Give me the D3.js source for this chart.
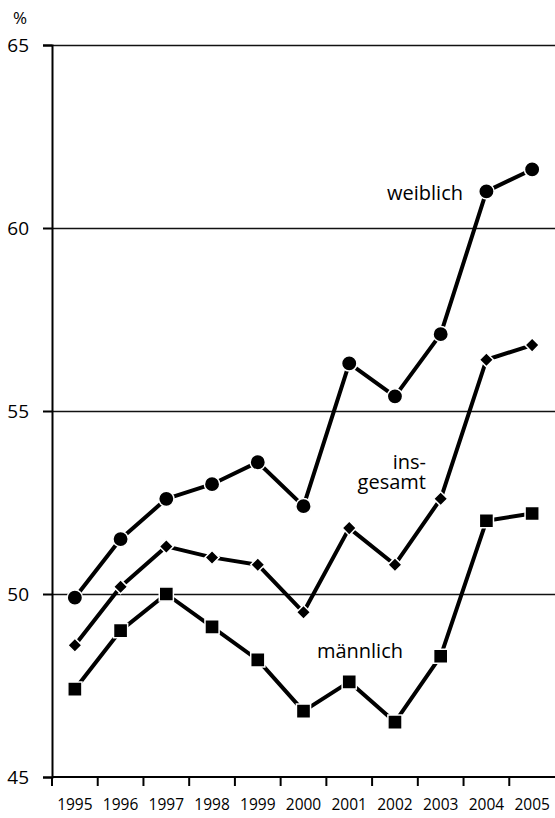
<!DOCTYPE html>
<html>
<head>
<meta charset="utf-8">
<script src="https://cdn.jsdelivr.net/npm/d3@7/dist/d3.min.js"></script>
<style>
  html, body { margin: 0; padding: 0; background: #fff; }
  svg { display: block; }
  text { font-family: "Open Sans", "Noto Sans", sans-serif; fill: #000; }
</style>
</head>
<body>
<svg id="chart" width="555" height="818"></svg>
<script>
const years = ["1995","1996","1997","1998","1999","2000","2001","2002","2003","2004","2005"];
const weiblich   = [49.9, 51.5, 52.6, 53.0, 53.6, 52.4, 56.3, 55.4, 57.1, 61.0, 61.6];
const insgesamt  = [48.6, 50.2, 51.3, 51.0, 50.8, 49.5, 51.8, 50.8, 52.6, 56.4, 56.8];
const maennlich  = [47.4, 49.0, 50.0, 49.1, 48.2, 46.8, 47.6, 46.5, 48.3, 52.0, 52.2];
const yTicks = [45, 50, 55, 60, 65];
const gridTicks = [50, 55, 60, 65];

(function () {
const svg = d3.select("#chart");
const mLeft = 52, mRight = 555, mTop = 45, mBottom = 777;
const FONT = '"Open Sans", "Noto Sans", sans-serif';

const x = d3.scaleBand().domain(years).range([mLeft, mRight]).padding(0);
const y = d3.scaleLinear().domain([45, 65]).range([mBottom, mTop]);
const cx = d => x(d) + x.bandwidth() / 2;

// gridlines
svg.append("g")
  .selectAll("line").data(gridTicks).join("line")
  .attr("x1", mLeft).attr("x2", mRight)
  .attr("y1", d => Math.round(y(d)) + 0.5).attr("y2", d => Math.round(y(d)) + 0.5)
  .attr("stroke", "#111").attr("stroke-width", 1.3);

// y axis
const yAxis = svg.append("g").attr("transform", `translate(${mLeft},0)`)
  .call(d3.axisLeft(y).tickValues(yTicks).tickSize(9).tickPadding(14));
yAxis.select(".domain").attr("stroke", "#000").attr("stroke-width", 2);
yAxis.selectAll(".tick line").attr("stroke", "#000").attr("stroke-width", 2);
yAxis.selectAll(".tick text")
  .style("font-family", FONT)
  .style("font-size", "19px").attr("fill", "#000");

// x axis line
svg.append("line").attr("x1", mLeft).attr("x2", mRight)
  .attr("y1", mBottom).attr("y2", mBottom)
  .attr("stroke", "#000").attr("stroke-width", 2);
// x ticks at band boundaries
svg.append("g").selectAll("line").data(years).join("line")
  .attr("x1", d => x(d)).attr("x2", d => x(d))
  .attr("y1", mBottom).attr("y2", mBottom + 9)
  .attr("stroke", "#000").attr("stroke-width", 2);
// x labels
const xAxis = svg.append("g").attr("transform", `translate(0,${mBottom})`)
  .call(d3.axisBottom(x).tickSize(0).tickPadding(22));
xAxis.select(".domain").remove();
xAxis.selectAll(".tick text")
  .style("font-family", FONT)
  .style("font-size", "15.5px").attr("fill", "#000");

// % label
svg.append("text").attr("x", 20).attr("y", 24).attr("text-anchor", "middle")
  .style("font-size", "17px").text("%");

// series
const series = [
  { name: "weiblich", values: weiblich, symbol: d3.symbolCircle, size: 185, rotate: 0 },
  { name: "insgesamt", values: insgesamt, symbol: d3.symbolSquare, size: 100, rotate: 45 },
  { name: "männlich", values: maennlich, symbol: d3.symbolSquare, size: 200, rotate: 0 }
];

const line = d3.line().x((d, i) => cx(years[i])).y(d => y(d));

series.forEach(s => {
  svg.append("path").datum(s.values)
    .attr("d", line)
    .attr("fill", "none").attr("stroke", "#000")
    .attr("stroke-width", 4).attr("stroke-linejoin", "round");
  svg.append("g").selectAll("path").data(s.values).join("path")
    .attr("d", d3.symbol().type(s.symbol).size(s.size))
    .attr("transform", (d, i) => `translate(${cx(years[i])},${y(d)}) rotate(${s.rotate})`)
    .attr("fill", "#000").attr("stroke", "#fff").attr("stroke-width", 1.5);
});

// series labels
const lab = svg.append("g").style("font-size", "20px");
lab.append("text").attr("x", 463).attr("y", 200).attr("text-anchor", "end").text("weiblich");
const ins = lab.append("text").attr("text-anchor", "end");
ins.append("tspan").attr("x", 426).attr("y", 469).text("ins-");
ins.append("tspan").attr("x", 426).attr("y", 489).text("gesamt");
lab.append("text").attr("x", 403).attr("y", 658).attr("text-anchor", "end").text("männlich");
})();
</script>
</body>
</html>
